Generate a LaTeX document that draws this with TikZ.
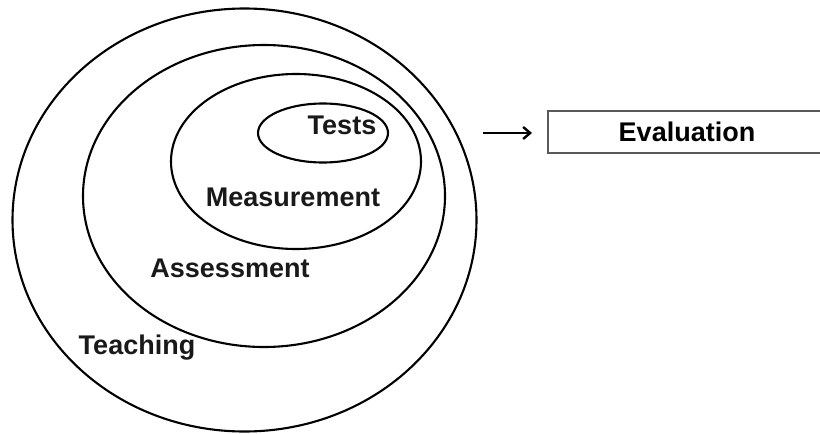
\documentclass[tikz,border=0pt]{standalone}
\usepackage{fontspec}
\setmainfont{Liberation Sans}
\usetikzlibrary{shapes.geometric,arrows.meta}
\tikzset{
  ring/.style={draw=black, line width=2.1pt, ellipse, inner sep=0pt},
  lbl/.style={font=\fontsize{27}{30}\selectfont\bfseries, text=black!90, inner sep=0pt},
  evalbox/.style={draw=black!65, line width=1.3pt, minimum width=278pt, minimum height=42pt, inner sep=0pt, font=\fontsize{27}{30}\selectfont\bfseries},
  conn/.style={line width=2.4pt, -{Straight Barb[length=7pt,width=12pt,line width=2.4pt]}}
}
\begin{document}
\begin{tikzpicture}[x=1pt,y=-1pt]
\useasboundingbox (0,0) rectangle (820,434);
\clip (0,0) rectangle (820,434);
\node[ring, minimum width=464pt, minimum height=423pt] (teach) at (244.5,220) {};
\node[ring, minimum width=362pt, minimum height=302pt] (assess) at (264,196) {};
\node[ring, minimum width=250pt, minimum height=175pt] (meas) at (296,161.5) {};
\node[ring, minimum width=130pt, minimum height=59pt] (tests) at (323,133) {};
\node[lbl] (ltests) at (342,125) {Tests};
\node[lbl] (lmeas) at (293,197) {Measurement};
\node[lbl] (lassess) at (230,268) {Assessment};
\node[lbl] (lteach) at (137,348) {Teaching};
\node[evalbox] (eval) at (687,132) {Evaluation};
\coordinate (astart) at (483,133);
\coordinate (aend) at (532,133);
\draw[conn] (astart) -- (aend);
\end{tikzpicture}
\end{document}
